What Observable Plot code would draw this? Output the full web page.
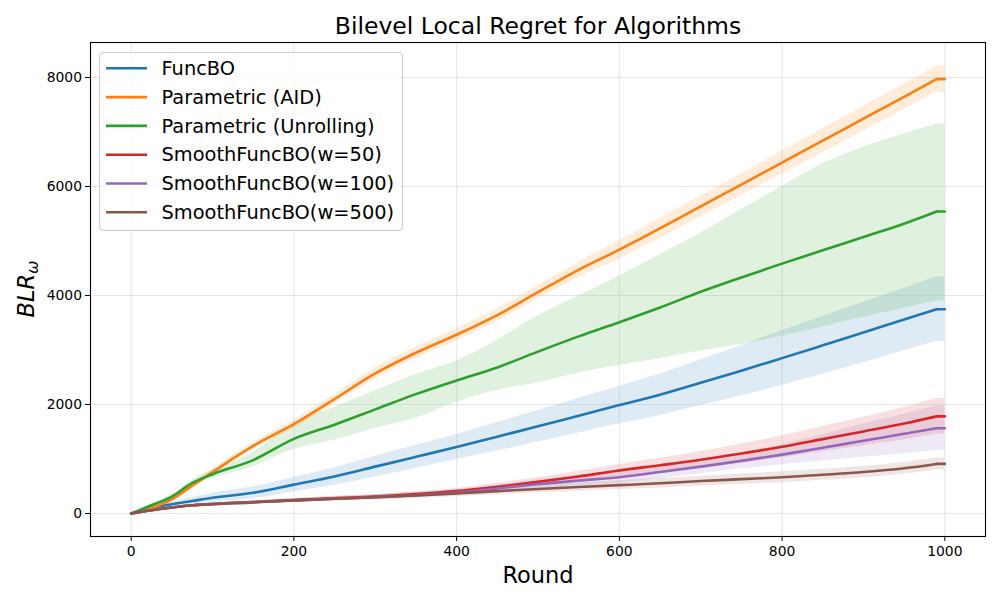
<!DOCTYPE html>
<html><head><meta charset="utf-8">
<script src="https://cdn.jsdelivr.net/npm/d3@7"></script>
<script src="https://cdn.jsdelivr.net/npm/@observablehq/plot@0.6"></script>
<style>
body{margin:0;background:#fff;}
#chart{width:1000px;height:600px;}
</style>
</head><body><div id="chart"></div>
<script>
// ---- data ----
const rounds = [0,25,50,75,100,150,200,250,300,350,400,450,500,550,600,650,700,750,800,850,900,950,990,1000];

const seriesNames = ["FuncBO","Parametric (AID)","Parametric (Unrolling)","SmoothFuncBO(w=50)","SmoothFuncBO(w=100)","SmoothFuncBO(w=500)"];
const seriesColors = ["#1f77b4","#ff7f0e","#2ca02c","#d62728","#9467bd","#8c564b"];

const funcboMean  = [0,100,170,230,290,380,530,680,860,1040,1220,1410,1600,1795,1990,2180,2400,2620,2851,3085,3320,3560,3749,3749];
const funcboLower = [0,80,130,170,210,270,400,520,670,830,990,1150,1310,1475,1645,1800,1980,2160,2351,2555,2765,2985,3159,3159];
const funcboUpper = [0,120,210,290,370,490,660,840,1050,1250,1450,1670,1890,2115,2335,2560,2820,3080,3351,3615,3875,4135,4339,4339];

const aidMean  = [0,100,260,510,760,1240,1640,2100,2570,2950,3280,3640,4060,4470,4840,5231,5634,6036,6439,6841,7244,7646,7970,7970];
const aidLower = [0,80,225,465,705,1175,1560,2010,2470,2845,3170,3525,3935,4330,4670,5051,5444,5836,6229,6621,7014,7411,7730,7730];
const aidUpper = [0,120,295,555,815,1305,1720,2190,2670,3055,3390,3755,4185,4610,5010,5411,5824,6236,6649,7061,7474,7881,8210,8210];

const unrollMean  = [0,150,310,560,720,980,1370,1630,1910,2190,2440,2680,2970,3250,3510,3780,4067,4330,4585,4830,5073,5317,5540,5540];
const unrollLower = [0,120,270,480,640,860,1180,1350,1560,1750,2040,2260,2400,2580,2720,2840,2980,3100,3250,3420,3600,3760,3900,3900];
const unrollUpper = [0,180,340,620,800,1120,1650,1950,2250,2550,2800,3180,3630,3990,4360,4750,5146,5580,6000,6415,6720,6963,7146,7146];

const w50Mean  = [0,60,110,150,175,210,245,280,310,355,410,490,580,680,790,885,985,1100,1225,1365,1505,1650,1783,1783];
const w50Lower = [0,55,102,140,163,192,220,250,275,313,360,425,500,585,680,755,835,925,1025,1135,1245,1355,1458,1458];
const w50Upper = [0,65,118,160,187,228,270,310,345,397,460,555,660,775,900,1015,1135,1275,1425,1595,1765,1945,2110,2110];

const w100Mean  = [0,60,110,150,172,205,240,270,300,335,385,460,540,605,665,760,860,965,1080,1205,1335,1462,1565,1565];
const w100Lower = [0,55,102,140,160,187,215,240,265,293,335,400,465,515,560,640,730,820,895,965,1030,1102,1155,1155];
const w100Upper = [0,65,118,160,184,223,265,300,335,377,435,520,615,695,770,880,990,1110,1265,1445,1640,1822,1975,1975];

const w500Mean  = [0,60,110,150,172,205,240,270,300,330,370,410,450,485,520,555,595,630,665,710,760,830,910,910];
const w500Lower = [0,55,100,135,152,175,200,225,250,275,310,345,380,410,440,470,505,535,565,608,656,723,800,800];
const w500Upper = [0,65,120,165,192,235,280,315,350,385,430,475,520,560,600,640,685,725,765,812,864,937,1020,1020];

const xTicks = [0,200,400,600,800,1000];
const yTicks = [0,2000,4000,6000,8000];

const titleText = "Bilevel Local Regret for Algorithms";
const xLabelText = "Round";

// ---- build table ----
const means  = [funcboMean, aidMean, unrollMean, w50Mean, w100Mean, w500Mean];
const lowers = [funcboLower, aidLower, unrollLower, w50Lower, w100Lower, w500Lower];
const uppers = [funcboUpper, aidUpper, unrollUpper, w50Upper, w100Upper, w500Upper];

const tables = seriesNames.map((name, k) =>
  rounds.map((r, i) => ({series: name, round: r, mean: means[k][i], lo: lowers[k][i], hi: uppers[k][i]})));
const lastRun = rounds[rounds.length - 2];
const bodyOf = t => t.filter(d => d.round <= lastRun);
const tailOf = t => t.filter(d => d.round >= lastRun);

const marks = [];
tables.forEach((t, k) => {
  marks.push(Plot.areaY(bodyOf(t), {x: "round", y1: "lo", y2: "hi", fill: seriesColors[k], fillOpacity: 0.15, curve: "monotone-x"}));
  marks.push(Plot.areaY(tailOf(t), {x: "round", y1: "lo", y2: "hi", fill: seriesColors[k], fillOpacity: 0.15}));
});
marks.push(Plot.gridX(xTicks, {stroke: "#b0b0b0", strokeOpacity: 0.3, strokeWidth: 1.1}));
marks.push(Plot.gridY(yTicks, {stroke: "#b0b0b0", strokeOpacity: 0.3, strokeWidth: 1.1}));
tables.forEach((t, k) => {
  marks.push(Plot.line(bodyOf(t), {x: "round", y: "mean", stroke: seriesColors[k], strokeWidth: 2.6, curve: "monotone-x"}));
  marks.push(Plot.line(tailOf(t), {x: "round", y: "mean", stroke: seriesColors[k], strokeWidth: 2.6}));
});
marks.push(Plot.frame({stroke: "black", strokeWidth: 1.1}));
marks.push(Plot.axisX(xTicks, {tickSize: 5, tickPadding: 4.5, label: null, tickFormat: d => String(d), fontSize: 13.9}));
marks.push(Plot.axisY(yTicks, {tickSize: 5, tickPadding: 3.5, label: null, tickFormat: d => String(d), fontSize: 13.9}));
marks.push(Plot.text([titleText], {frameAnchor: "top", lineAnchor: "bottom", dy: -8.5, fontSize: 23.5, fill: "black", text: d => d}));
marks.push(Plot.text([xLabelText], {frameAnchor: "bottom", lineAnchor: "bottom", dy: 46, fontSize: 22.5, fill: "black", text: d => d}));

const chart = Plot.plot({
  width: 1000, height: 600,
  marginLeft: 90, marginRight: 15, marginTop: 42, marginBottom: 64,
  x: {domain: [-50, 1050]},
  y: {domain: [-422, 8642]},
  style: {fontFamily: "DejaVu Sans", fontSize: "13.9px", color: "black", background: "white", overflow: "visible"},
  marks
});
document.getElementById("chart").appendChild(chart);

// ---- y label with subscript & legend ----
const svg = d3.select(chart);
const yl = svg.append("text")
  .attr("transform", "translate(34,289) rotate(-90)")
  .attr("text-anchor", "middle")
  .attr("font-family", "DejaVu Sans")
  .attr("font-style", "italic")
  .attr("font-size", 22.5)
  .attr("fill", "black");
yl.append("tspan").text("BLR");
yl.append("tspan").attr("font-size", 16).attr("dy", 4).text("ω");

const lg = svg.append("g").attr("font-family", "DejaVu Sans").attr("font-size", 19.4).attr("text-anchor", "start");
lg.append("rect").attr("x", 99.5).attr("y", 52.5).attr("width", 303).attr("height", 178)
  .attr("rx", 4).attr("fill", "white").attr("fill-opacity", 0.8).attr("stroke", "#cccccc").attr("stroke-width", 1.1);
seriesNames.forEach((name, i) => {
  const y = 68.3 + i * 28.8;
  lg.append("line").attr("x1", 106).attr("x2", 147).attr("y1", y).attr("y2", y)
    .attr("stroke", seriesColors[i]).attr("stroke-width", 2.6);
  lg.append("text").attr("x", 161.5).attr("y", y).attr("dy", "0.35em").attr("text-anchor", "start").attr("fill", "black").text(name);
});
</script>
</body></html>
